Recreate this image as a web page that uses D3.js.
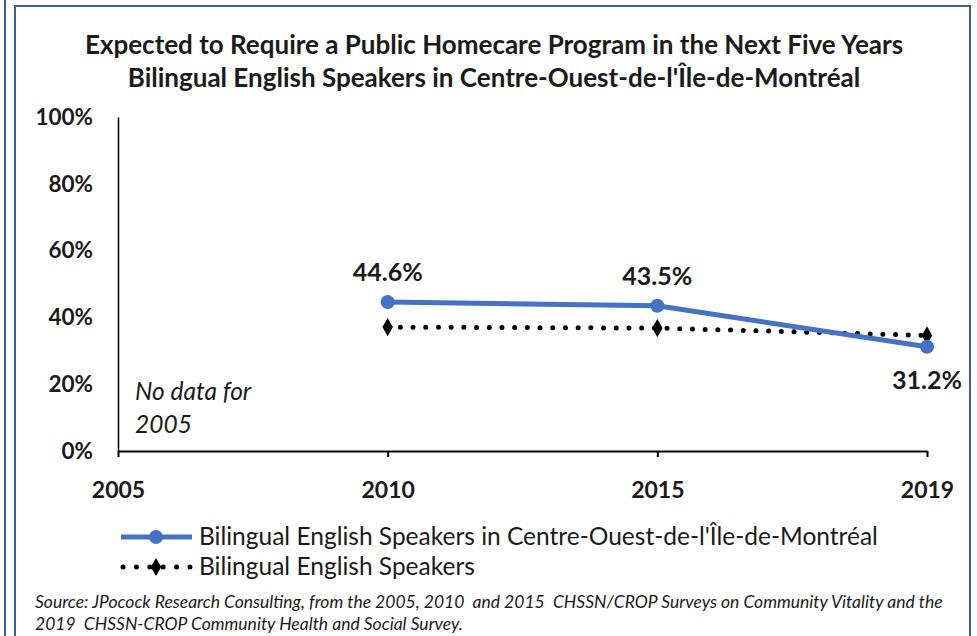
<!DOCTYPE html>
<html>
<head>
<meta charset="utf-8">
<script src="https://cdn.jsdelivr.net/npm/d3@7"></script>
<style>
html,body{margin:0;padding:0;background:#fff;}
svg{display:block;font-family:Lato,"Open Sans",sans-serif;}
</style>
</head>
<body>
<svg id="chart" width="977" height="636"></svg>
<script>
const years = ["2005", "2010", "2015", "2019"];
const regionValues = [null, 44.6, 43.5, 31.2];
const provinceValues = [null, 37.1, 36.8, 34.6];
const yTicks = [0, 20, 40, 60, 80, 100];
const titleLines = [
  "Expected to Require a Public Homecare Program in the Next Five Years",
  "Bilingual English Speakers in Centre-Ouest-de-l'Île-de-Montréal"
];
const seriesNames = [
  "Bilingual English Speakers in Centre-Ouest-de-l'Île-de-Montréal",
  "Bilingual English Speakers"
];
const sourceLines = [
  "Source: JPocock Research Consulting, from the 2005, 2010  and 2015  CHSSN/CROP Surveys on Community Vitality and the",
  "2019  CHSSN-CROP Community Health and Social Survey."
];

const svg = d3.select("#chart");
const blue = "#4472C4";
const frame = "#3a5fa6";

// frame lines
svg.append("line").attr("x1",5).attr("x2",5).attr("y1",0).attr("y2",636).attr("stroke",frame).attr("stroke-width",2);
svg.append("path").attr("d","M15,636 V6 H970 V636").attr("fill","none").attr("stroke",frame).attr("stroke-width",2);

// title
svg.append("g").selectAll("text").data(titleLines).join("text")
  .attr("x",494).attr("y",(d,i)=>54+i*33)
  .attr("text-anchor","middle").attr("font-weight","bold").attr("font-size",26)
  .attr("fill","#1a1a1a").text(d=>d);

const x = d3.scalePoint().domain(years).range([118, 927]);
const y = d3.scaleLinear().domain([0,100]).range([451, 117]);

// y axis line + labels
const yAxis = d3.axisLeft(y).tickValues(yTicks).tickSize(0).tickPadding(25).tickFormat(d=>d+"%");
const gy = svg.append("g").attr("transform","translate(118,0)").call(yAxis);
gy.select(".domain").attr("stroke","#000").attr("stroke-width",1.5);
gy.selectAll("text").attr("font-size",22.5).attr("font-weight","bold").attr("fill","#1a1a1a").attr("font-family","Lato,sans-serif");

// x axis
const xAxis = d3.axisBottom(x).tickSize(6).tickSizeOuter(0).tickPadding(25);
const gx = svg.append("g").attr("transform","translate(0,451)").call(xAxis);
gx.select(".domain").attr("stroke","#000").attr("stroke-width",2);
gx.selectAll(".tick line").attr("stroke","#000").attr("stroke-width",2);
gx.selectAll("text").attr("font-size",23).attr("font-weight","bold").attr("fill","#1a1a1a").attr("font-family","Lato,sans-serif");

// lines
const line = d3.line().defined(d=>d.v!=null).x(d=>x(d.k)).y(d=>y(d.v));
const provData = years.map((k,i)=>({k, v:provinceValues[i]}));
const regData = years.map((k,i)=>({k, v:regionValues[i]}));

svg.append("path").datum(provData).attr("d",line).attr("fill","none")
  .attr("stroke","#000").attr("stroke-width",5).attr("stroke-linecap","round")
  .attr("stroke-dasharray","0 12.7");
svg.append("g").selectAll("path").data(provData.filter(d=>d.v!=null)).join("path")
  .attr("transform",d=>`translate(${x(d.k)},${y(d.v)})`)
  .attr("d",d3.symbol(d3.symbolDiamond,95)()).attr("fill","#000");

svg.append("path").datum(regData).attr("d",line).attr("fill","none")
  .attr("stroke",blue).attr("stroke-width",5).attr("stroke-linejoin","round");
svg.append("g").selectAll("circle").data(regData.filter(d=>d.v!=null)).join("circle")
  .attr("cx",d=>x(d.k)).attr("cy",d=>y(d.v)).attr("r",7).attr("fill",blue);

// data labels
const labelOffsets = [null, [0,-21], [0,-21], [0,42]];
svg.append("g").selectAll("text").data(regData.map((d,i)=>({...d,i})).filter(d=>d.v!=null)).join("text")
  .attr("x",d=>x(d.k)+labelOffsets[d.i][0]).attr("y",d=>y(d.v)+labelOffsets[d.i][1])
  .attr("text-anchor","middle").attr("font-size",25).attr("font-weight","bold").attr("fill","#1a1a1a")
  .text(d=>d.v.toFixed(1)+"%");

// no data note
svg.append("g").selectAll("text").data(["No data for","2005"]).join("text")
  .attr("x",135).attr("y",(d,i)=>400+i*33).attr("font-size",24.5).attr("font-style","italic")
  .attr("fill","#1a1a1a").text(d=>d);

// legend
const lg = svg.append("g");
lg.append("line").attr("x1",121).attr("x2",192).attr("y1",537).attr("y2",537).attr("stroke",blue).attr("stroke-width",5);
lg.append("circle").attr("cx",156).attr("cy",537).attr("r",7).attr("fill",blue);
lg.append("line").attr("x1",123).attr("x2",190).attr("y1",567).attr("y2",567).attr("stroke","#000")
  .attr("stroke-width",5).attr("stroke-linecap","round").attr("stroke-dasharray","0 13.4");
lg.append("path").attr("transform","translate(156,567)").attr("d",d3.symbol(d3.symbolDiamond,95)()).attr("fill","#000");
lg.selectAll("text").data(seriesNames).join("text")
  .attr("x",199).attr("y",(d,i)=>545+i*30).attr("font-size",24.5).attr("fill","#1a1a1a").text(d=>d);

// source
svg.append("g").selectAll("text").data(sourceLines).join("text")
  .attr("x",35).attr("y",(d,i)=>608+i*22).attr("font-size",17.5).attr("font-style","italic")
  .attr("fill","#1a1a1a").attr("xml:space","preserve").style("white-space","pre").text(d=>d);
</script>
</body>
</html>
